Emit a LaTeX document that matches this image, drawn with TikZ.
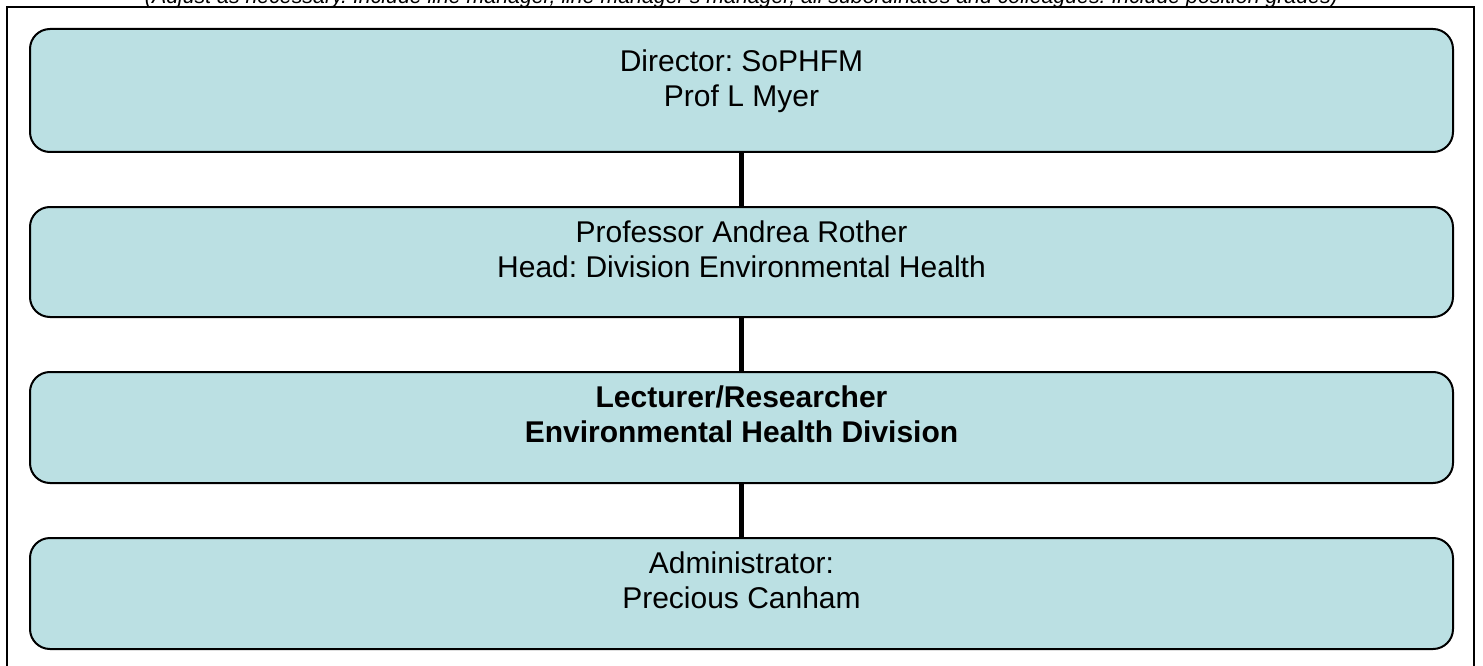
\documentclass[tikz,border=0pt]{standalone}
\usepackage{fontspec}
\setmainfont{Liberation Sans}
\frenchspacing
\definecolor{boxfill}{RGB}{187,224,227}
\tikzset{
  orgbox/.style={draw=black, line width=2pt, fill=boxfill, rounded corners=20pt, inner sep=0pt, outer sep=0pt, minimum width=1423pt},
  line1/.style={anchor=base, inner sep=0pt, font=\fontsize{30}{35}\selectfont},
  line1b/.style={anchor=base, inner sep=0pt, font=\fontsize{30}{35}\selectfont\bfseries},
  link/.style={line width=5pt, black},
  frame/.style={line width=2pt, black}
}
\begin{document}
\begin{tikzpicture}[x=1pt,y=-1pt]
\useasboundingbox (0,0) rectangle (1483,666);
% caption (cut off at top, as in the reference)
\node[anchor=base, inner sep=0pt] (cap) at (741.5,3.5) {\resizebox{1193pt}{!}{\itshape (Adjust as necessary. Include line manager, line manager's manager, all subordinates and colleagues. Include position grades)}};
% outer frame
\coordinate (fbl) at (7,670);
\coordinate (ftl) at (7,7);
\coordinate (ftr) at (1474,7);
\coordinate (fbr) at (1474,670);
\draw[frame] (fbl) -- (ftl) -- (ftr) -- (fbr);
% boxes
\node[orgbox, minimum height=123pt] (b1) at (741.5,90.5) {};
\node[orgbox, minimum height=110pt] (b2) at (741.5,262) {};
\node[orgbox, minimum height=111pt] (b3) at (741.5,427.5) {};
\node[orgbox, minimum height=111pt] (b4) at (741.5,593.5) {};
% connectors
\draw[link] (b1.south) -- (b2.north);
\draw[link] (b2.south) -- (b3.north);
\draw[link] (b3.south) -- (b4.north);
% texts
\node[line1] (t1a) at (741.5,72) {Director: SoPHFM};
\node[line1] (t1b) at (741.5,107) {Prof L Myer};
\node[line1] (t2a) at (741.5,242) {Professor Andrea Rother};
\node[line1] (t2b) at (741.5,277) {Head: Division Environmental Health};
\node[line1b] (t3a) at (741.5,407) {Lecturer/Researcher};
\node[line1b] (t3b) at (741.5,442) {Environmental Health Division};
\node[line1] (t4a) at (741.5,573) {Administrator:};
\node[line1] (t4b) at (741.5,608) {Precious Canham};
\end{tikzpicture}
\end{document}
